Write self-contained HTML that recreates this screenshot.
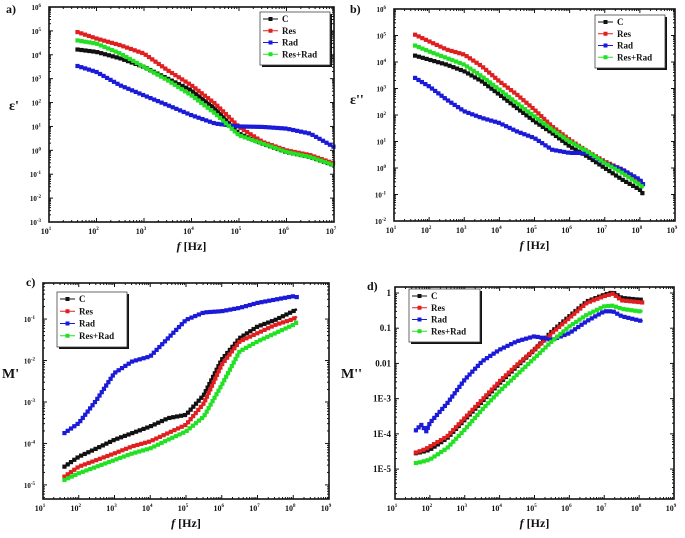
<!DOCTYPE html>
<html><head><meta charset="utf-8">
<style>
body{margin:0;background:#fff;width:685px;height:538px;overflow:hidden}
svg{display:block}
text{font-family:"Liberation Serif",serif;font-weight:bold;fill:#111}
</style></head><body>
<svg id="fig" width="685" height="538"></svg>
<script>
// ---------- data (log10 values) ----------
const seriesNames = ["C","Res","Rad","Res+Rad"];
const seriesColors = ["#111111","#e02020","#1a1ad8","#22e022"];

const aX = [1.6,2,2.5,3,3.5,4,4.5,5,5.5,6,6.5,7];
const aC = [4.22,4.12,3.85,3.49,3.0,2.51,1.75,0.7,0.28,-0.07,-0.28,-0.62];
const aRes = [4.95,4.68,4.4,4.05,3.35,2.72,1.95,0.98,0.35,0.0,-0.2,-0.55];
const aRad = [3.53,3.28,2.72,2.3,1.89,1.47,1.12,1.0,0.98,0.91,0.7,0.14];
const aMix = [4.6,4.47,4.05,3.49,2.93,2.3,1.54,0.63,0.28,-0.07,-0.28,-0.62];

const bX = [1.6,2,2.5,3,3.5,4,4.5,5,5.5,6,6.5,7,7.5,8,8.1];
const bC = [4.24,4.09,3.9,3.65,3.27,2.77,2.26,1.76,1.32,0.82,0.44,0.0,-0.44,-0.82,-1.0];
const bRes = [5.03,4.78,4.47,4.28,3.84,3.27,2.77,2.2,1.57,1.07,0.63,0.25,-0.06,-0.5,-0.63];
const bRad = [3.4,3.08,2.58,2.14,1.89,1.7,1.38,1.13,0.69,0.57,0.57,0.19,-0.06,-0.44,-0.63];
const bMix = [4.62,4.4,4.15,3.9,3.46,2.96,2.45,1.95,1.45,1.0,0.63,0.19,-0.19,-0.63,-0.75];

const cX = [1.6,2,2.5,3,3.5,4,4.5,5,5.5,6,6.5,7,7.5,8,8.1];
const cC = [-4.56,-4.32,-4.12,-3.91,-3.75,-3.59,-3.39,-3.31,-2.83,-1.98,-1.46,-1.18,-1.02,-0.81,-0.76];
const cRes = [-4.8,-4.56,-4.4,-4.24,-4.07,-3.95,-3.75,-3.55,-3.03,-2.1,-1.54,-1.34,-1.14,-1.0,-0.94];
const cRad = [-3.75,-3.51,-2.95,-2.3,-2.02,-1.9,-1.46,-1.02,-0.84,-0.81,-0.73,-0.61,-0.53,-0.45,-0.47];
const cMix = [-4.88,-4.72,-4.56,-4.4,-4.24,-4.12,-3.91,-3.71,-3.35,-2.59,-1.78,-1.54,-1.34,-1.14,-1.08];

const dX = [1.6,1.75,1.9,2,2.5,3,3.5,4,4.5,5,5.5,6,6.5,7,7.25,7.5,8,8.1];
const dC = [-4.55,-4.52,-4.48,-4.45,-4.12,-3.6,-3.08,-2.56,-2.08,-1.61,-1.09,-0.66,-0.24,-0.05,0.02,-0.14,-0.19,-0.19];
const dRes = [-4.53,-4.48,-4.42,-4.36,-4.07,-3.55,-3.03,-2.51,-2.04,-1.61,-1.14,-0.71,-0.28,-0.09,-0.02,-0.21,-0.26,-0.27];
const dRad = [-3.9,-3.74,-3.93,-3.69,-3.13,-2.46,-1.94,-1.61,-1.37,-1.23,-1.33,-1.14,-0.8,-0.52,-0.52,-0.66,-0.78,-0.8];
const dMix = [-4.83,-4.8,-4.76,-4.73,-4.4,-3.88,-3.31,-2.79,-2.32,-1.85,-1.37,-0.95,-0.62,-0.38,-0.36,-0.45,-0.52,-0.52];

const NS="http://www.w3.org/2000/svg";
const svg=document.getElementById('fig');
function el(tag,attrs,parent){const e=document.createElementNS(NS,tag);for(const k in attrs)e.setAttribute(k,attrs[k]);(parent||svg).appendChild(e);return e;}

function panel(cfg){
  const g=el('g',{});
  
  
  const {x0,x1,y0,y1,xmin,xmax,ymin,ymax}=cfg;
  const sx=v=>x0+(v-xmin)/(xmax-xmin)*(x1-x0);
  const sy=v=>y1-(v-ymin)/(ymax-ymin)*(y1-y0);
  for(let d=Math.ceil(xmin);d<=xmax;d++){
    for(let m=1;m<10;m++){
      const v=d+Math.log10(m); if(v>xmax+1e-6)break;
      const x=sx(v),L=m==1?4:2;
      el('line',{x1:x,y1:y1,x2:x,y2:y1-L,stroke:'#111','stroke-width':1},g);
      el('line',{x1:x,y1:y0,x2:x,y2:y0+L,stroke:'#111','stroke-width':1},g);
      if(m==1){
        const t=el('text',{x:x-3,y:y1+12,'font-size':8,'text-anchor':'middle'},g);
        t.textContent='10';
        const s=el('tspan',{dy:-4,'font-size':5},t); s.textContent=d;
        
        
      }
    }
  }
  for(let d=Math.floor(ymin);d<=ymax;d++){
    for(let m=1;m<10;m++){
      const v=d+Math.log10(m); if(v>ymax+1e-6)break; if(v<ymin)continue;
      const y=sy(v),L=m==1?4:2;
      el('line',{x1:x0,y1:y,x2:x0+L,y2:y,stroke:'#111','stroke-width':1},g);
      el('line',{x1:x1,y1:y,x2:x1-L,y2:y,stroke:'#111','stroke-width':1},g);
      if(m==1){
        let t;
        if(cfg.yfmt){t=el('text',{x:x0-4,y:y+3,'font-size':9,'text-anchor':'end'},g);t.textContent=cfg.yfmt(d);}
        else{t=el('text',{x:x0-8,y:y+3,'font-size':7,'text-anchor':'end'},g);t.textContent='10';
          const s=el('tspan',{dy:-3,'font-size':5},t);s.textContent=d;}
        
        
      }
    }
  }
  cfg.series.forEach((ys,i)=>{
    const sg=el('g',{},g);
    
    
    const pts=cfg.xs.map((xv,j)=>sx(xv)+','+sy(ys[j])).join(' ');
    const pl=el('polyline',{points:pts,fill:'none',stroke:seriesColors[i],'stroke-width':2.5,'stroke-linejoin':'round'},sg);
    const len=pl.getTotalLength();
    for(let l=0;l<=len;l+=4){
      const p=pl.getPointAtLength(l);
      el('rect',{x:p.x-2.1,y:p.y-2.1,width:4.2,height:4.2,fill:seriesColors[i]},sg);
    }
  });
  const fr=el('rect',{x:x0,y:y0,width:x1-x0,height:y1-y0,fill:'none',stroke:'#111','stroke-width':1.6},g);
  
  
  const [lx,ly,lw,lh]=cfg.legend;
  const lg=el('g',{},g);
  
  
  el('rect',{x:lx+2,y:ly+2,width:lw,height:lh,fill:'#111'},lg);
  el('rect',{x:lx,y:ly,width:lw,height:lh,fill:'#fff',stroke:'#444','stroke-width':0.8},lg);
  seriesNames.forEach((n,i)=>{
    const yy=ly+7+i*(lh-6)/4;
    el('line',{x1:lx+3,y1:yy,x2:lx+18,y2:yy,stroke:seriesColors[i],'stroke-width':1},lg);
    el('rect',{x:lx+8.5,y:yy-2,width:4,height:4,fill:seriesColors[i]},lg);
    const t=el('text',{x:lx+22,y:yy+3,'font-size':9},lg);t.textContent=n;
    
    
  });
  const pl=el('text',{x:cfg.tag[0],y:cfg.tag[1],'font-size':12},g);pl.textContent=cfg.tagText;
  
  
  const xt=el('text',{x:(x0+x1)/2,y:y1+28,'font-size':12,'text-anchor':'middle'},g);
  const fi=el('tspan',{'font-style':'italic'},xt);fi.textContent='f';
  const hz=el('tspan',{},xt);hz.textContent=' [Hz]';
  
  
  const yt=el('text',{x:cfg.ytitle[0],y:cfg.ytitle[1],'font-size':14},g);yt.textContent=cfg.ytitleText;
  
  
}

panel({name:'panel-a-eps-real',x0:49,x1:334,y0:7,y1:222,xmin:1,xmax:7,ymin:-3,ymax:6,
  xs:aX,series:[aC,aRes,aRad,aMix],legend:[260,12,70,53],tag:[6,13],tagText:'a)',
  ytitle:[9,110],ytitleText:'ε\''});
panel({name:'panel-b-eps-imag',x0:394,x1:675,y0:9,y1:221,xmin:1,xmax:9,ymin:-2,ymax:6,
  xs:bX,series:[bC,bRes,bRad,bMix],legend:[595,15,70,53],tag:[350,13],tagText:'b)',
  ytitle:[350,104],ytitleText:'ε\'\''});
panel({name:'panel-c-modulus-real',x0:43,x1:329,y0:283,y1:499,xmin:1,xmax:9,ymin:-5.34,ymax:-0.13,
  xs:cX,series:[cC,cRes,cRad,cMix],legend:[57,292,70,55],tag:[26,286],tagText:'c)',
  ytitle:[2,378],ytitleText:'M\''});
panel({name:'panel-d-modulus-imag',x0:395,x1:674,y0:287,y1:499,xmin:1,xmax:9,ymin:-5.85,ymax:0.17,
  xs:dX,series:[dC,dRes,dRad,dMix],legend:[409,289,71,53],tag:[367,290],tagText:'d)',
  ytitle:[341,378],ytitleText:'M\'\'',
  yfmt:d=>d==0?'1':d==-1?'0.1':d==-2?'0.01':'1E'+d});
</script>
</body></html>
